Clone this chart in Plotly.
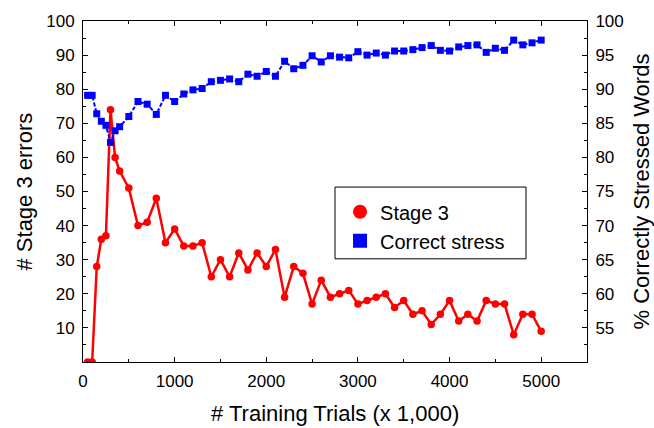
import plotly.graph_objects as go

trials = [50, 100, 150, 200, 250, 300, 350, 400, 500, 600, 700, 800, 900, 1000,
          1100, 1200, 1300, 1400, 1500, 1600, 1700, 1800, 1900, 2000, 2100, 2200,
          2300, 2400, 2500, 2600, 2700, 2800, 2900, 3000, 3100, 3200, 3300, 3400,
          3500, 3600, 3700, 3800, 3900, 4000, 4100, 4200, 4300, 4400, 4500, 4600,
          4700, 4800, 4900, 5000]

stage3_errors = [0, 0, 28, 36, 37, 74, 60, 56, 51, 40, 41, 48, 35, 39,
                 34, 34, 35, 25, 30, 25, 32, 27, 32, 28, 33, 19,
                 28, 26, 17, 24, 19, 20, 21, 17, 18, 19, 20, 16,
                 18, 14, 15, 11, 14, 18, 12, 14, 12, 18, 17, 17,
                 8, 14, 14, 9]

correct_stress = [89.1, 89.1, 86.4, 85.3, 84.7, 82.2, 83.9, 84.5, 86.0, 88.2, 87.8, 86.3, 89.1, 88.2,
                  89.3, 89.9, 90.1, 91.1, 91.3, 91.5, 91.1, 92.2, 91.9, 92.6, 91.9, 94.1,
                  93.0, 93.5, 94.9, 94.0, 94.9, 94.7, 94.6, 95.5, 95.0, 95.3, 95.0, 95.6,
                  95.6, 95.8, 96.1, 96.4, 95.7, 95.6, 96.2, 96.4, 96.5, 95.4, 96.0, 95.7,
                  97.2, 96.5, 96.8, 97.2]

x_ticks = [0, 1000, 2000, 3000, 4000, 5000]
left_ticks = [10, 20, 30, 40, 50, 60, 70, 80, 90, 100]
right_ticks = [55, 60, 65, 70, 75, 80, 85, 90, 95, 100]

FONT = "Liberation Sans, Arial, sans-serif"

fig = go.Figure()

fig.add_trace(go.Scatter(
    x=trials, y=correct_stress, yaxis="y2", mode="lines+markers",
    line=dict(color="#0000ff", width=2, dash="4px,2px"),
    marker=dict(symbol="square", size=7, color="#0000ff"),
    showlegend=False,
))
fig.add_trace(go.Scatter(
    x=trials, y=stage3_errors, mode="lines+markers",
    line=dict(color="#ff0000", width=2.5),
    marker=dict(symbol="circle", size=7.5, color="#ff0000"),
    showlegend=False,
))
# legend entries (markers only)
fig.add_trace(go.Scatter(x=[None], y=[None], mode="markers", name="Stage 3",
                         marker=dict(symbol="circle", size=14, color="#ff0000")))
fig.add_trace(go.Scatter(x=[None], y=[None], mode="markers", name="Correct stress",
                         marker=dict(symbol="square", size=14, color="#0000ff")))

axis_common = dict(showline=True, linecolor="black", linewidth=1, ticks="inside",
                   ticklen=5, tickcolor="black", showgrid=False, zeroline=False,
                   tickfont=dict(family=FONT, size=17, color="black"))

fig.update_layout(
    width=654, height=428,
    margin=dict(l=83, r=67, t=15, b=66),
    paper_bgcolor="white", plot_bgcolor="white",
    font=dict(family=FONT, color="black"),
    xaxis=dict(range=[0, 5500], tickmode="array", tickvals=x_ticks, mirror="ticks",
               minor=dict(ticks="inside", ticklen=3, dtick=500, tick0=0, tickcolor="black"),
               ticklabelstandoff=4, **axis_common),
    yaxis=dict(range=[0, 100], tickmode="array", tickvals=left_ticks,
               minor=dict(ticks="inside", ticklen=3, dtick=5, tick0=0, tickcolor="black"),
               ticklabelstandoff=4, **axis_common),
    yaxis2=dict(range=[50, 100], overlaying="y", side="right", tickmode="array",
                tickvals=right_ticks,
                minor=dict(ticks="inside", ticklen=3, dtick=2.5, tick0=50, tickcolor="black"),
                ticklabelstandoff=4, **axis_common),
    legend=dict(x=0.51, y=0.398, xanchor="left", yanchor="middle",
                bgcolor="rgba(0,0,0,0)", borderwidth=0,
                font=dict(family=FONT, size=20, color="black"),
                itemsizing="trace", tracegroupgap=0),
    shapes=[dict(type="rect", xref="paper", yref="paper",
                 x0=(335 - 83) / 504, x1=(526 - 83) / 504,
                 y0=(362 - 257) / 347, y1=(362 - 184) / 347,
                 line=dict(color="black", width=1), fillcolor="rgba(0,0,0,0)")],
    annotations=[
        dict(text="# Training Trials (x 1,000)", xref="paper", yref="paper",
             x=0.5, y=0, yshift=-51, xanchor="center", yanchor="middle", showarrow=False,
             font=dict(family=FONT, size=22, color="black")),
        dict(text="# Stage 3 errors", xref="paper", yref="paper", x=0, xshift=-59,
             y=0.5, xanchor="center", yanchor="middle", textangle=-90, showarrow=False,
             font=dict(family=FONT, size=22, color="black")),
        dict(text="% Correctly Stressed Words", xref="paper", yref="paper", x=1, xshift=54,
             y=0.5, xanchor="center", yanchor="middle", textangle=-90, showarrow=False,
             font=dict(family=FONT, size=22, color="black")),
    ],
)

fig.write_html("out.html")
